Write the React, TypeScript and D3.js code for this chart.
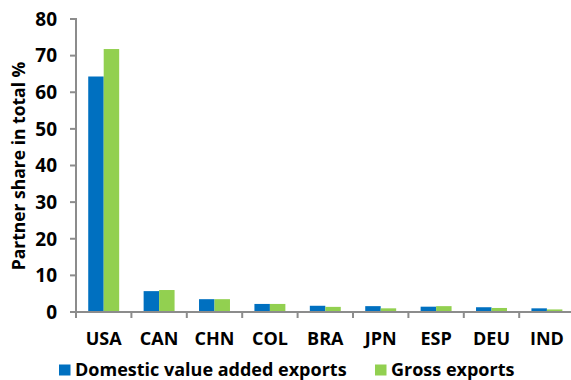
import React, { useEffect, useRef } from "react";
import * as d3 from "d3";

const categories = ["USA", "CAN", "CHN", "COL", "BRA", "JPN", "ESP", "DEU", "IND"];
const seriesNames = ["Domestic value added exports", "Gross exports"];
const domesticValues = [64.3, 5.7, 3.5, 2.2, 1.7, 1.6, 1.45, 1.3, 1.0];
const grossValues = [71.8, 6.0, 3.5, 2.2, 1.4, 1.0, 1.6, 1.1, 0.7];
const yTicks = [0, 10, 20, 30, 40, 50, 60, 70, 80];
const seriesColors = ["#0070C0", "#92D050"];
const yTitle = "Partner share in total %";

const W = 571;
const H = 380;
const FONT = "'Open Sans', 'Liberation Sans', sans-serif";
const AXIS = "#8c8c8c";

export default function App() {
  const ref = useRef<SVGSVGElement>(null);

  useEffect(() => {
    const svg = d3.select(ref.current);
    svg.selectAll("*").remove();

    const x0 = 76;
    const x = d3.scaleBand<string>().domain(categories).range([x0, x0 + 55.4 * 9]);
    const y = d3.scaleLinear().domain([0, 80]).range([312, 19]);
    const xs = d3
      .scaleBand<string>()
      .domain(seriesNames)
      .range([0, x.bandwidth()])
      .paddingInner(0)
      .paddingOuter(0.79);

    const values = [domesticValues, grossValues];

    // bars
    seriesNames.forEach((name, si) => {
      svg
        .append("g")
        .selectAll("rect")
        .data(categories)
        .join("rect")
        .attr("x", (c) => (x(c) as number) + (xs(name) as number))
        .attr("y", (_c, i) => y(values[si][i]))
        .attr("width", xs.bandwidth())
        .attr("height", (_c, i) => y(0) - y(values[si][i]))
        .attr("fill", seriesColors[si]);
    });

    // y axis
    const gy = svg.append("g");
    gy.append("line")
      .attr("x1", x0).attr("x2", x0)
      .attr("y1", y(80) - 1).attr("y2", y(0) + 6)
      .attr("stroke", AXIS).attr("stroke-width", 2);
    gy.selectAll("line.tick")
      .data(yTicks)
      .join("line")
      .attr("class", "tick")
      .attr("x1", x0 - 6).attr("x2", x0)
      .attr("y1", (d) => y(d)).attr("y2", (d) => y(d))
      .attr("stroke", AXIS).attr("stroke-width", 2);
    gy.selectAll("text")
      .data(yTicks)
      .join("text")
      .attr("x", 57)
      .attr("y", (d) => y(d))
      .attr("dy", "0.36em")
      .attr("text-anchor", "end")
      .attr("font-family", FONT)
      .attr("font-weight", 700)
      .attr("font-size", 19)
      .attr("fill", "#000")
      .text((d) => d);

    // x axis
    const gx = svg.append("g");
    gx.append("line")
      .attr("x1", x0 - 6).attr("x2", W)
      .attr("y1", y(0)).attr("y2", y(0))
      .attr("stroke", AXIS).attr("stroke-width", 2);
    const bounds = categories.map((c) => x(c) as number);
    gx.selectAll("line.tick")
      .data(bounds)
      .join("line")
      .attr("class", "tick")
      .attr("x1", (d) => d).attr("x2", (d) => d)
      .attr("y1", y(0)).attr("y2", y(0) + 6)
      .attr("stroke", AXIS).attr("stroke-width", 2);
    gx.selectAll("text")
      .data(categories)
      .join("text")
      .attr("x", (c) => (x(c) as number) + x.bandwidth() / 2)
      .attr("y", 345)
      .attr("text-anchor", "middle")
      .attr("font-family", FONT)
      .attr("font-weight", 700)
      .attr("font-size", 18)
      .attr("fill", "#000")
      .text((c) => c);

    // y title
    svg.append("text")
      .attr("transform", "translate(25,166) rotate(-90)")
      .attr("text-anchor", "middle")
      .attr("font-family", FONT)
      .attr("font-weight", 700)
      .attr("font-size", 17.5)
      .attr("fill", "#000")
      .text(yTitle);

    // legend
    const legendX = [59, 375];
    const lg = svg.append("g");
    seriesNames.forEach((name, i) => {
      lg.append("rect")
        .attr("x", legendX[i]).attr("y", 364.5)
        .attr("width", 11.5).attr("height", 11)
        .attr("fill", seriesColors[i]);
      lg.append("text")
        .attr("x", legendX[i] + 16).attr("y", 375.5)
        .attr("font-family", FONT)
        .attr("font-weight", 700)
        .attr("font-size", 18)
        .attr("fill", "#000")
        .text(name);
    });
  }, []);

  return (
    <svg
      ref={ref}
      width={W}
      height={H}
      style={{ position: "fixed", left: 0, top: 0, background: "#fff", display: "block" }}
    />
  );
}
